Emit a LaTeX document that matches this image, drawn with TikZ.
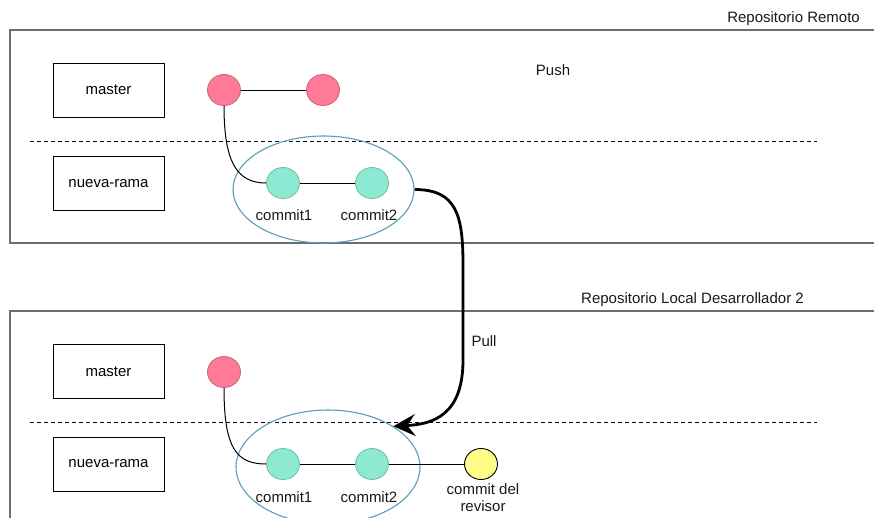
\documentclass[tikz,border=0pt]{standalone}
\usepackage{fontspec}
\setmainfont{Liberation Sans}
\usetikzlibrary{shapes.geometric,arrows.meta}
\definecolor{framegray}{HTML}{6E6E6E}
\definecolor{pinkfill}{HTML}{FF7A96}
\definecolor{pinkdraw}{HTML}{C8647A}
\definecolor{greenfill}{HTML}{8DE9D1}
\definecolor{greendraw}{HTML}{6DBF9F}
\definecolor{groupblue}{HTML}{5A9DB8}
\definecolor{yellowfill}{HTML}{FFFF88}
\tikzset{
  frame/.style={draw=framegray, line width=1.6pt},
  branchbox/.style={draw=black, line width=0.9pt, minimum width=111pt, minimum height=54pt, inner sep=0pt},
  sep/.style={dashed, line width=1pt, dash pattern=on 4pt off 3pt},
  pinkc/.style={ellipse, fill=pinkfill, draw=pinkdraw, line width=0.8pt, minimum width=33pt, minimum height=31pt, inner sep=0pt},
  greenc/.style={ellipse, fill=greenfill, draw=greendraw, line width=0.8pt, minimum width=33pt, minimum height=31pt, inner sep=0pt},
  yellowc/.style={ellipse, fill=yellowfill, draw=black, line width=0.9pt, minimum width=33pt, minimum height=31pt, inner sep=0pt},
  group/.style={ellipse, draw=groupblue, line width=1.1pt, inner sep=0pt},
  link/.style={draw=black, line width=1pt},
  pullarrow/.style={draw=black, line width=2.8pt, -{Stealth[length=22pt,width=22pt,inset=8pt]}},
  lbl/.style={inner sep=0pt, text=black!90},
}
\begin{document}
\begin{tikzpicture}[x=1pt, y=-1pt, font=\fontsize{15}{17}\selectfont]
\useasboundingbox (0,0) rectangle (874,517);
\clip (0,0) rectangle (874,517);

% remote repository
\draw[frame] (10,30) rectangle (890,243);
\node[lbl, anchor=east] (remote) at (860,19) {Repositorio Remoto};
\node[branchbox] (rmaster) at (108.5,90) {master};
\node[branchbox] (rbranch) at (108.5,183.5) {nueva-rama};
\draw[sep] (30,141) -- (817,141);
\node[lbl] (push) at (553,70) {Push};

\node[group, minimum width=181pt, minimum height=107pt] (rgroup) at (323.5,189.5) {};
\node[pinkc] (rm1) at (224,90) {};
\node[pinkc] (rm2) at (323,90) {};
\node[greenc] (rc1) at (283,183) {};
\node[greenc] (rc2) at (372,183) {};
\draw[link] (rm1) -- (rm2);
\draw[link] (rc1) -- (rc2);
\draw[link] (rm1.south) .. controls +(0,55) and +(-30,0) .. (rc1.west);
\node[lbl] (rl1) at (284,215) {commit1};
\node[lbl] (rl2) at (369,215) {commit2};

% local repository of the second developer
\draw[frame] (10,311) rectangle (890,540);
\node[lbl, anchor=east] (local) at (804,300) {Repositorio Local Desarrollador 2};
\node[branchbox] (lmaster) at (108.5,371.5) {master};
\node[branchbox] (lbranch) at (108.5,464) {nueva-rama};
\draw[sep] (30,422) -- (817,422);

\node[group, minimum width=184pt, minimum height=114pt] (lgroup) at (328,467) {};
\node[pinkc] (lm1) at (224,372) {};
\node[greenc] (lc1) at (283,464) {};
\node[greenc] (lc2) at (372,464) {};
\node[yellowc] (lrev) at (481,464) {};
\draw[link] (lc1) -- (lc2);
\draw[link] (lc2) -- (lrev);
\draw[link] (lm1.south) .. controls +(0,60) and +(-30,0) .. (lc1.west);
\node[lbl] (ll1) at (284,497) {commit1};
\node[lbl] (ll2) at (369,497) {commit2};
\node[lbl, align=center] (llrev) at (483,498) {commit del\\revisor};

% pull from the remote to the local copy
\coordinate (bendtop) at (463,265);
\coordinate (bendbot) at (463,360);
\draw[pullarrow] (rgroup.east) .. controls +(42,0) and +(0,-50) .. (bendtop) -- (bendbot)
  .. controls +(0,55) and +(40,-2) .. (lgroup.32);
\node[lbl] (pull) at (484,341) {Pull};
\end{tikzpicture}
\end{document}
